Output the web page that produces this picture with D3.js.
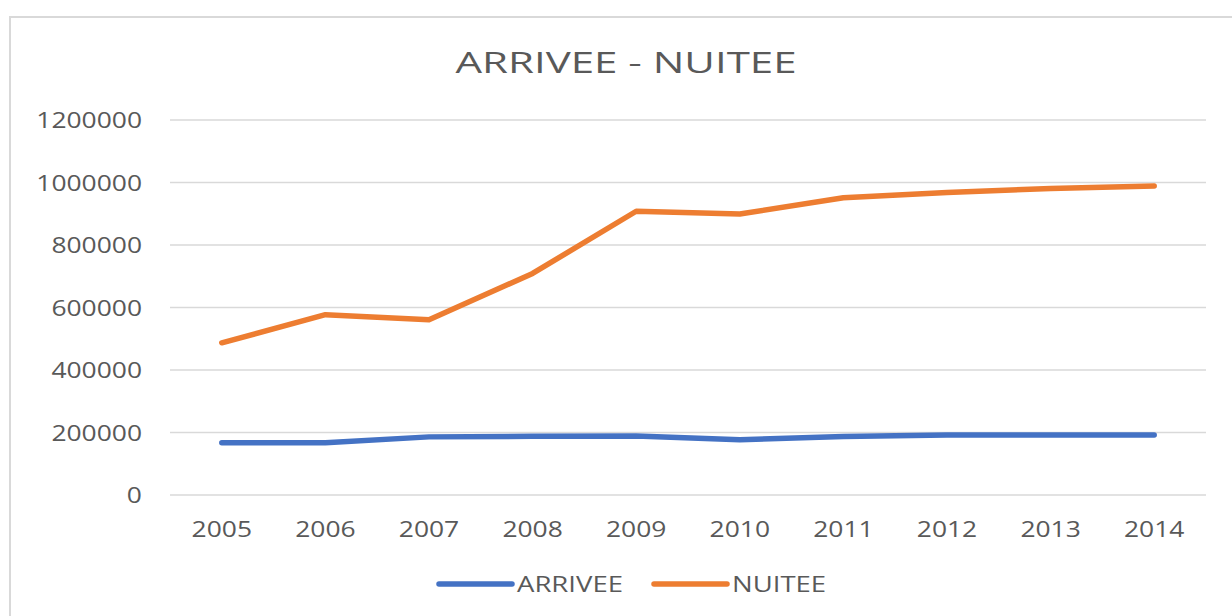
<!DOCTYPE html>
<html>
<head>
<meta charset="utf-8">
<script src="https://cdn.jsdelivr.net/npm/d3@7"></script>
<style>
  html, body { margin: 0; padding: 0; background: #fff; }
  svg { display: block; }
</style>
</head>
<body>
<svg id="chart" width="1232" height="616"></svg>
<script>
// chart data
const YEARS = ['2005','2006','2007','2008','2009','2010','2011','2012','2013','2014'];
const ARRIVEE = [167000, 167000, 186000, 188000, 189000, 177000, 187000, 192000, 192000, 192000];
const NUITEE  = [487000, 577000, 561000, 709000, 908000, 899000, 951000, 968000, 981000, 989000];
const Y_TICKS = [0, 200000, 400000, 600000, 800000, 1000000, 1200000];
const SERIES = [
  { name: 'ARRIVEE', values: ARRIVEE, color: '#4472C4' },
  { name: 'NUITEE',  values: NUITEE,  color: '#ED7D31' },
];

const W = 1232, H = 616;
const FONT = '"Open Sans", "Liberation Sans", sans-serif';
const TXT = '#595959';
const STRETCH = 1.2;   // the source image is a bit wider than tall

const svg = d3.select('#chart');

// widen a text node horizontally to match the stretched original
function widen(sel, k = STRETCH) {
  sel.each(function () {
    const len = this.getComputedTextLength();
    d3.select(this).attr('textLength', len * k).attr('lengthAdjust', 'spacingAndGlyphs');
  });
}

// chart frame (only top and left edges show in the crop)
svg.append('path')
  .attr('d', `M10,${H} L10,17 L${W},17`)
  .attr('fill', 'none').attr('stroke', '#d9d9d9').attr('stroke-width', 2);

const plot = { left: 170, right: 1206, top: 120, bottom: 495 };

const x = d3.scaleBand().domain(YEARS).range([plot.left, plot.right]);
const y = d3.scaleLinear().domain([0, 1200000]).range([plot.bottom, plot.top]);

// gridlines
svg.append('g')
  .selectAll('line').data(Y_TICKS).join('line')
  .attr('x1', plot.left).attr('x2', plot.right)
  .attr('y1', d => y(d)).attr('y2', d => y(d))
  .attr('stroke', '#d9d9d9').attr('stroke-width', 1.5);

// y labels
svg.append('g')
  .selectAll('text').data(Y_TICKS).join('text')
  .attr('x', 142).attr('y', d => y(d) + 8)
  .attr('text-anchor', 'end')
  .attr('font-family', FONT).attr('font-size', 22).attr('fill', TXT)
  .text(d => d)
  .call(widen);

// x labels
svg.append('g')
  .selectAll('text').data(YEARS).join('text')
  .attr('x', d => x(d) + x.bandwidth() / 2).attr('y', 537)
  .attr('text-anchor', 'middle')
  .attr('font-family', FONT).attr('font-size', 22).attr('fill', TXT)
  .text(d => d)
  .call(widen);

// lines
const line = d3.line()
  .x((d, i) => x(YEARS[i]) + x.bandwidth() / 2)
  .y(d => y(d));

svg.append('g')
  .selectAll('path').data(SERIES).join('path')
  .attr('d', s => line(s.values))
  .attr('fill', 'none')
  .attr('stroke', s => s.color)
  .attr('stroke-width', 5.5)
  .attr('stroke-linecap', 'round')
  .attr('stroke-linejoin', 'round');

// title
svg.append('text')
  .attr('x', 626).attr('y', 73)
  .attr('text-anchor', 'middle')
  .attr('font-family', FONT).attr('font-size', 30).attr('fill', TXT)
  .text('ARRIVEE - NUITEE')
  .call(widen, 1.4);

// legend
const legendX = [439, 654];
const lg = svg.append('g')
  .selectAll('g').data(SERIES).join('g')
  .attr('transform', (d, i) => `translate(${legendX[i]},584)`);
lg.append('line')
  .attr('x1', 0).attr('x2', 73).attr('y1', 0).attr('y2', 0)
  .attr('stroke', d => d.color).attr('stroke-width', 5.5)
  .attr('stroke-linecap', 'round');
lg.append('text')
  .attr('x', 78).attr('y', 8)
  .attr('font-family', FONT).attr('font-size', 22).attr('fill', TXT)
  .text(d => d.name)
  .call(widen, 1.25);
</script>
</body>
</html>
